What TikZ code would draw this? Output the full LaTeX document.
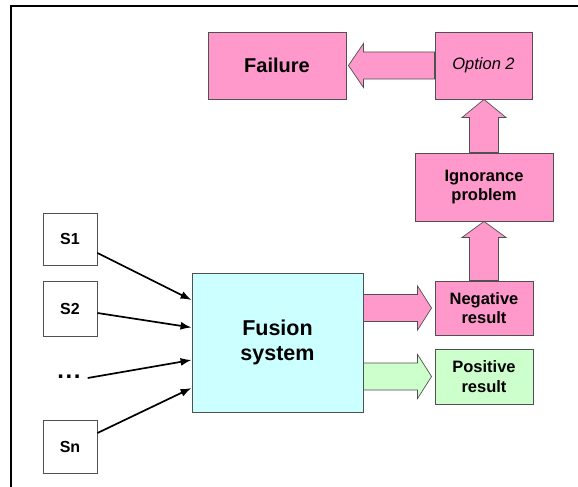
\documentclass[tikz,border=0pt]{standalone}
\usepackage{fontspec}
\setmainfont{Liberation Sans}
\usetikzlibrary{calc,arrows.meta}
\definecolor{pinkf}{HTML}{FF99CC}
\definecolor{cyanf}{HTML}{CCFFFF}
\definecolor{greenf}{HTML}{CCFFCC}
\definecolor{edgegray}{HTML}{505050}
\tikzset{
  box/.style={draw=edgegray,line width=0.9pt,minimum width=#1,inner sep=0pt,align=center},
  pinkbox/.style={box=#1,fill=pinkf},
  smallbox/.style={box=54pt,fill=white,font=\fontsize{16}{19}\selectfont\bfseries},
  lbl/.style={font=\fontsize{16.5}{19.5}\selectfont\bfseries},
  blockarr/.style={draw=edgegray,line width=0.7pt,line join=miter},
  thin/.style={draw=black,line width=1.7pt,-{Latex[length=11pt,width=8pt]}},
}
% horizontal block arrow: fill, tail, tip, head length
\newcommand{\hblock}[4]{%
  \path[blockarr,fill=#1] let \p1=(#2), \p2=(#3), \n1={sign(\x2-\x1)} in
    (\x1,{\y1+13.5pt}) -- ({\x2-\n1*#4},{\y1+13.5pt}) -- ({\x2-\n1*#4},{\y1+22pt})
    -- (\x2,\y1) -- ({\x2-\n1*#4},{\y1-22pt}) -- ({\x2-\n1*#4},{\y1-13.5pt})
    -- (\x1,{\y1-13.5pt}) -- cycle;}
% vertical block arrow: fill, tail, tip, head length
\newcommand{\vblock}[4]{%
  \path[blockarr,fill=#1] let \p1=(#2), \p2=(#3), \n1={sign(\y2-\y1)} in
    ({\x1+14.5pt},\y1) -- ({\x1+14.5pt},{\y2-\n1*#4}) -- ({\x1+22pt},{\y2-\n1*#4})
    -- (\x1,\y2) -- ({\x1-22pt},{\y2-\n1*#4}) -- ({\x1-14.5pt},{\y2-\n1*#4})
    -- ({\x1-14.5pt},\y1) -- cycle;}
\begin{document}
\begin{tikzpicture}[x=1pt,y=-1pt]
\useasboundingbox (0,0) rectangle (578,487);
\draw[line width=1.2pt] (11,487) -- (11,6) -- (578,6);

\node[pinkbox=138pt,minimum height=67pt,font=\fontsize{20}{24}\selectfont\bfseries] (fail) at (277,65.5) {Failure};
\node[pinkbox=97pt,minimum height=67pt,font=\fontsize{16.5}{19.5}\selectfont\itshape] (opt) at (483.5,65.5) {Option 2};
\node[pinkbox=138pt,minimum height=68pt,lbl] (ign) at (484,187) {Ignorance\\problem};
\node[pinkbox=98pt,minimum height=54pt,lbl] (neg) at (484,308) {Negative\\result};
\node[box=98pt,fill=greenf,minimum height=55pt,lbl] (pos) at (484,376.5) {Positive\\result};
\node[box=171pt,fill=cyanf,minimum height=139pt,font=\fontsize{21.5}{25}\selectfont\bfseries] (fus) at (277.5,342.5) {Fusion\\system};

\node[smallbox,minimum height=52pt] (s1) at (70,239) {S1};
\node[smallbox,minimum height=55pt] (s2) at (70,308.5) {S2};
\node[smallbox,minimum height=53pt] (sn) at (70,446.5) {Sn};
\node[inner sep=0pt,font=\fontsize{24}{24}\selectfont\bfseries] (dots) at (69,377) {.\kern1.5pt.\kern1.5pt.};

\draw[thin] ([yshift=-14pt]s1.east) -- ([yshift=42.5pt]fus.west);
\draw[thin] ([yshift=-4.5pt]s2.east) -- ([yshift=15pt]fus.west);
\draw[thin] ([xshift=7pt,yshift=-1pt]dots.east) -- ([yshift=-17.5pt]fus.west);
\draw[thin] ([yshift=13.5pt]sn.east) -- ([yshift=-45.5pt]fus.west);

\hblock{pinkf}{opt.west}{$(fail.east)+(2,0)$}{15pt}
\vblock{pinkf}{ign.north}{opt.south}{18pt}
\vblock{pinkf}{neg.north}{ign.south}{16pt}
\hblock{pinkf}{fus.east |- neg.west}{$(neg.west)+(-3,0)$}{14pt}
\hblock{greenf}{fus.east |- pos.west}{$(pos.west)+(-3,0)$}{14pt}
\end{tikzpicture}
\end{document}
